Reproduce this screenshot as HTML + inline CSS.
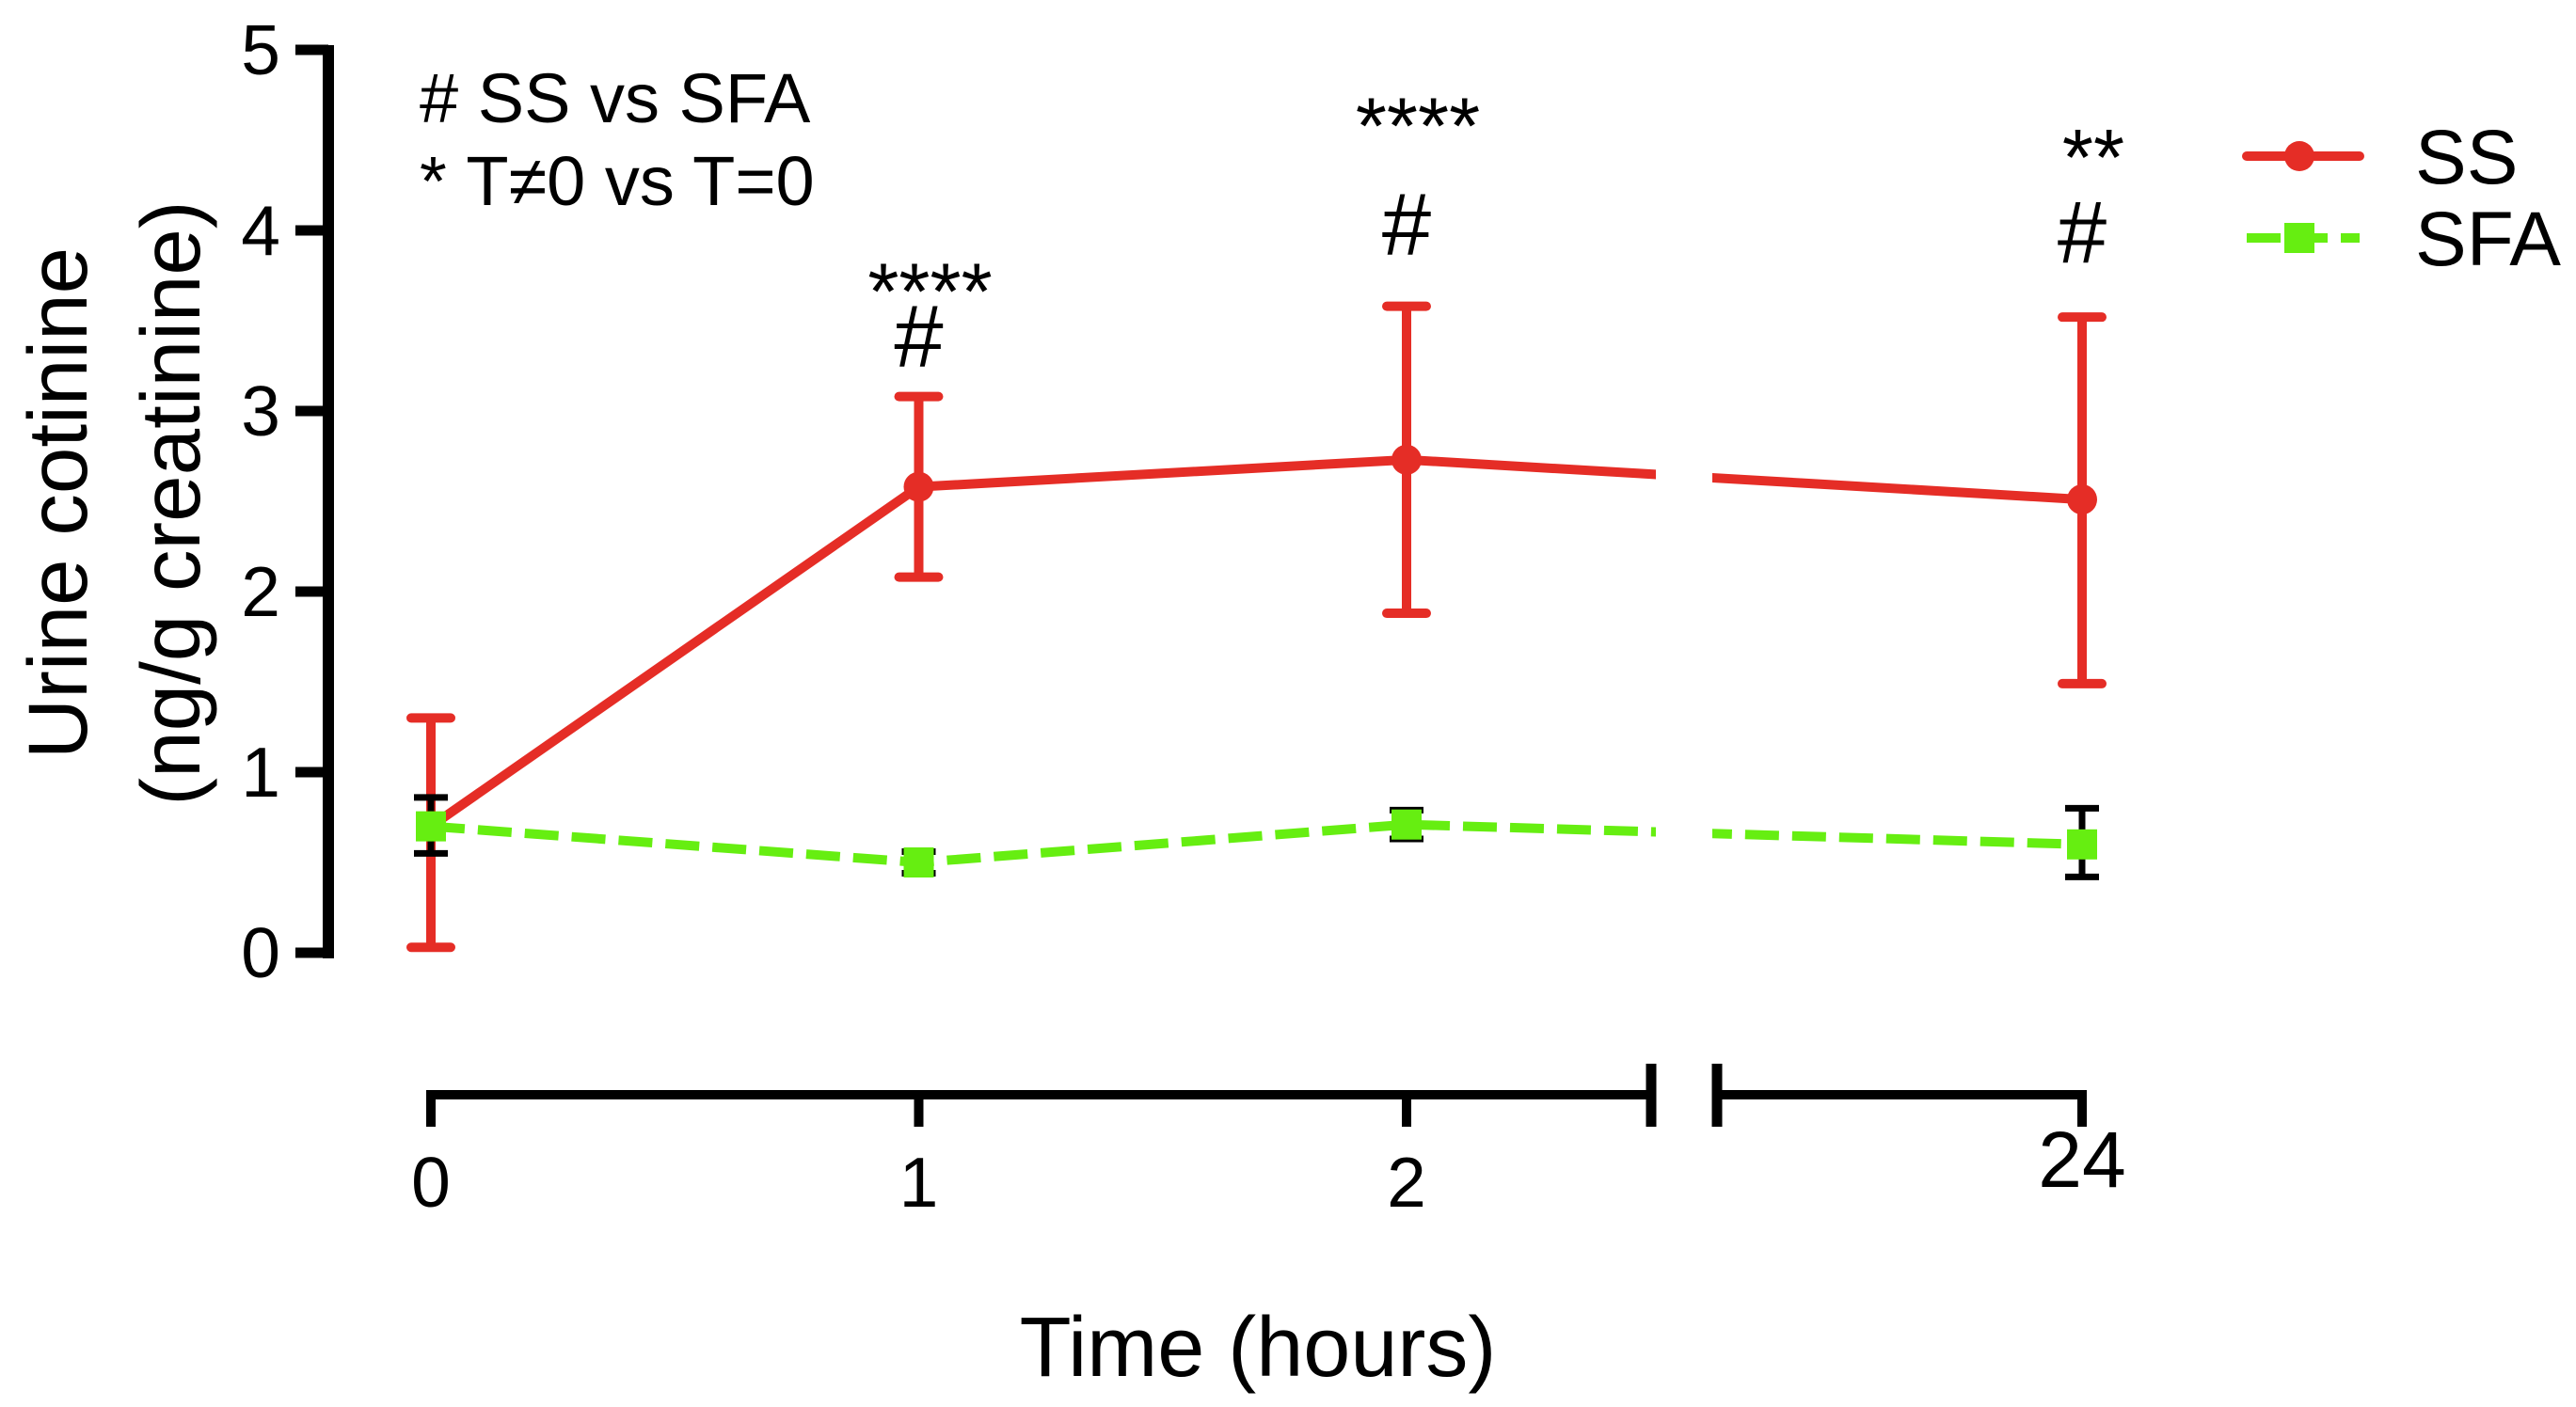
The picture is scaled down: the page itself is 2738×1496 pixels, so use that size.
<!DOCTYPE html>
<html><head><meta charset="utf-8"><style>
html,body{margin:0;padding:0;background:#fff;}
svg{display:block;font-family:"Liberation Sans",Arial,sans-serif;}
</style></head><body>
<svg id="chart" width="2738" height="1496" viewBox="0 0 2738 1496" xmlns="http://www.w3.org/2000/svg">
<defs>
<clipPath id="gapclip"><rect x="0" y="0" width="1760" height="1496"/><rect x="1820" y="0" width="918" height="1496"/></clipPath>
</defs>
<g id="axes"></g>
<g id="data"></g>
<g id="annot"></g>
<text x="446" y="130" font-size="74">#&#160;SS vs SFA</text>
<text x="446" y="218" font-size="74">*&#160;T≠0 vs T=0</text>
<text transform="translate(92,535) rotate(-90)" text-anchor="middle" font-size="89">Urine cotinine</text>
<text transform="translate(212,535) rotate(-90)" text-anchor="middle" font-size="89">(ng/g creatinine)</text>
<text x="1337" y="1463" text-anchor="middle" font-size="90">Time (hours)</text>
<g>
<g>
<line x1="2388" y1="166" x2="2508" y2="166" stroke="#e52d26" stroke-width="10" stroke-linecap="round"/>
<circle cx="2444" cy="166" r="16" fill="#e52d26"/>
<text x="2567" y="195" font-size="82">SS</text>
</g>
<g>
<line x1="2388" y1="253" x2="2508" y2="253" stroke="#66ee11" stroke-width="10" stroke-dasharray="36,14"/>
<rect x="2428" y="237" width="32" height="32" fill="#66ee11"/>
<text x="2567" y="282" font-size="82">SFA</text>
</g>
</g>
</svg>
<script>
const hours = [0, 1, 2, 24];
const xTickLabels = ["0", "1", "2", "24"];
const yTicks = [0, 1, 2, 3, 4, 5];
const ssMean = [0.7, 2.58, 2.73, 2.51];
const ssLow = [0.03, 2.08, 1.88, 1.49];
const ssHigh = [1.3, 3.08, 3.58, 3.52];
const sfaMean = [0.7, 0.5, 0.71, 0.6];
const sfaLow = [0.55, 0.44, 0.63, 0.42];
const sfaHigh = [0.86, 0.56, 0.79, 0.8];
const starLabels = ["", "****", "****", "**"];
const hashLabels = ["", "#", "#", "#"];

const NS = "http://www.w3.org/2000/svg";
function yS(v){ return 1013 - v * 192; }
function xS(h){ return h <= 3 ? 458 + h * 518.5 : 2213 - (24 - h) * 518.5; }
function mk(tag, attrs, parent){
  const e = document.createElementNS(NS, tag);
  for (const k in attrs) e.setAttribute(k, attrs[k]);
  parent.appendChild(e);
  return e;
}
const axes = document.getElementById("axes");
const data = document.getElementById("data");
const annot = document.getElementById("annot");

let ya = mk("line", {x1:349, y1:yS(5)-5, x2:349, y2:yS(0)+6, stroke:"#000", "stroke-width":12}, axes);


yTicks.forEach(v => {
  let t = mk("line", {x1:314, y1:yS(v), x2:349, y2:yS(v), stroke:"#000", "stroke-width":11}, axes);
  
  
  let l = mk("text", {x:298, y:yS(v)+26, "text-anchor":"end", "font-size":75}, axes);
  l.textContent = String(v);
  
  
});

let xa1 = mk("line", {x1:xS(0)-5, y1:1164, x2:1755, y2:1164, stroke:"#000", "stroke-width":10}, axes);


let xa2 = mk("line", {x1:1825, y1:1164, x2:xS(24)+5, y2:1164, stroke:"#000", "stroke-width":10}, axes);


[1755, 1825].forEach(bx => {
  let b = mk("line", {x1:bx, y1:1131, x2:bx, y2:1198, stroke:"#000", "stroke-width":11}, axes);
  
  
});
hours.forEach((h, i) => {
  let t = mk("line", {x1:xS(h), y1:1164, x2:xS(h), y2:1198, stroke:"#000", "stroke-width":10}, axes);
  
  
  let l = mk("text", {x:xS(h), y: h === 24 ? 1262 : 1283, "text-anchor":"middle", "font-size": h === 24 ? 84 : 75}, axes);
  l.textContent = xTickLabels[i];
  
  
});

function pts(arr){ return hours.map((h,i) => xS(h) + "," + yS(arr[i])).join(" "); }
let sfaLine = mk("polyline", {points:pts(sfaMean), fill:"none", stroke:"#66ee11", "stroke-width":10, "stroke-dasharray":"36,14", "clip-path":"url(#gapclip)"}, data);


let ssLine = mk("polyline", {points:pts(ssMean), fill:"none", stroke:"#e52d26", "stroke-width":10, "stroke-linejoin":"round", "clip-path":"url(#gapclip)"}, data);



hours.forEach((h, i) => {
  const x = xS(h);
  let e = mk("path", {d:`M${x},${yS(ssLow[i])}V${yS(ssHigh[i])}M${x-21},${yS(ssHigh[i])}H${x+21}M${x-21},${yS(ssLow[i])}H${x+21}`, stroke:"#e52d26", "stroke-width":10, fill:"none", "stroke-linecap":"round"}, data);
  
  
});
hours.forEach((h, i) => {
  const x = xS(h);
  let e = mk("path", {d:`M${x},${yS(sfaLow[i])}V${yS(sfaHigh[i])}M${x-18},${yS(sfaHigh[i])}H${x+18}M${x-18},${yS(sfaLow[i])}H${x+18}`, stroke:"#000", "stroke-width":7, fill:"none"}, data);
  
  
});
hours.forEach((h, i) => {
  let c = mk("circle", {cx:xS(h), cy:yS(ssMean[i]), r:16, fill:"#e52d26"}, data);
  
  
});
hours.forEach((h, i) => {
  let r = mk("rect", {x:xS(h)-16, y:yS(sfaMean[i])-16, width:32, height:32, fill:"#66ee11"}, data);
  
  
});

hours.forEach((h, i) => {
  if (!starLabels[i]) return;
  const top = yS(ssHigh[i]);
  const hashOff = i === 1 ? 32 : (i === 2 ? 55 : 58);
  const starOff = i === 1 ? 82 : (i === 2 ? 162 : 140);
  let hs = mk("text", {x:xS(h), y:top - hashOff, "text-anchor":"middle", "font-size":94}, annot);
  hs.textContent = hashLabels[i];
  
  
  let st = mk("text", {x:xS(h)+12, y:top - starOff, "text-anchor":"middle", "font-size":85}, annot);
  st.textContent = starLabels[i];
  
  
});
</script>
</body></html>
